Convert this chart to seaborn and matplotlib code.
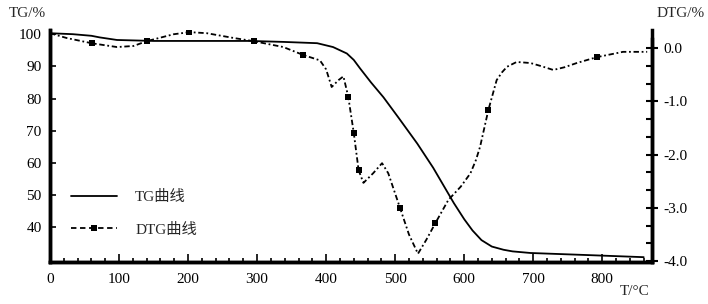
import numpy as np
import pandas as pd
import matplotlib
matplotlib.use("Agg")
import matplotlib.pyplot as plt
from matplotlib.ticker import MultipleLocator, FixedLocator, FuncFormatter
from matplotlib.lines import Line2D
import seaborn as sns

# TG 曲线 (左轴)
tg_temp = [0, 33, 60, 72, 97, 150, 250, 290, 338, 387, 410, 430, 440, 449,
           465, 483, 505, 532, 555, 570, 585, 600, 612, 625, 640, 657, 670,
           696, 773, 860]
tg_val = [100.3, 100.0, 99.5, 99.0, 98.2, 97.9, 97.9, 97.9, 97.6, 97.2, 96.0,
          94.0, 92.0, 89.4, 85.0, 80.4, 74.0, 66.0, 58.5, 53.0, 47.5, 42.5,
          39.0, 36.0, 34.0, 33.0, 32.5, 32.0, 31.4, 30.7]

# DTG 曲线 (右轴)
dtg_temp = [0, 24, 61, 97, 121, 140, 179, 202, 227, 266, 295, 338, 367, 391,
            400, 408, 418, 425, 432, 440, 447, 454, 468, 481, 490, 507, 520,
            533, 545, 558, 577, 595, 609, 617, 623, 635, 647, 655, 662, 676,
            696, 712, 729, 745, 763, 792, 830, 865]
dtg_val = [0.28, 0.19, 0.09, 0.02, 0.04, 0.13, 0.26, 0.30, 0.28, 0.19, 0.13,
           0.02, -0.13, -0.23, -0.40, -0.73, -0.60, -0.53, -0.91, -1.59, -2.29,
           -2.53, -2.35, -2.16, -2.35, -3.00, -3.50, -3.86, -3.60, -3.29, -2.85,
           -2.60, -2.35, -2.10, -1.85, -1.16, -0.60, -0.45, -0.35, -0.26, -0.28,
           -0.34, -0.41, -0.36, -0.28, -0.17, -0.07, -0.07]
marker_temps = [61, 140, 202, 295, 367, 432, 440, 447, 507, 558, 635, 792]

sns.set_style("ticks")
plt.rcParams['font.family'] = ['Liberation Serif', 'Noto Sans CJK SC']
plt.rcParams['axes.unicode_minus'] = False

fig = plt.figure(figsize=(7.08, 3.04), dpi=100)
ax = fig.add_axes([50 / 708, 42 / 304, 602 / 708, 232 / 304])
ax2 = ax.twinx()

sns.lineplot(x=tg_temp, y=tg_val, ax=ax, color='black', lw=1.3)
mark_idx = [dtg_temp.index(t) for t in marker_temps]
sns.lineplot(x=dtg_temp, y=dtg_val, ax=ax2, color='black', lw=1.3,
             linestyle=(0, (3, 1.5, 1, 1.5)), marker='s', markersize=4,
             markevery=mark_idx, markeredgewidth=0)

ax.set_xlim(0, 872)
ax.set_ylim(29.2, 101.3)
ax2.set_ylim(-4.015, 0.34)

for a in (ax, ax2):
    a.spines['top'].set_visible(False)
    for s in ('left', 'right', 'bottom'):
        a.spines[s].set_linewidth(2.5)
        a.spines[s].set_color('black')
ax2.spines['right'].set_bounds(-4.015, 0.17)
ax.set_xlabel('')
ax.set_ylabel('')
ax2.set_ylabel('')

ax.set_xticks(range(0, 900, 100))
ax.xaxis.set_minor_locator(MultipleLocator(20))
ax.set_yticks(range(40, 101, 10))
ax.tick_params(axis='x', which='major', direction='in', length=6, width=1.2,
               labelsize=11, pad=8, colors='black')
ax.tick_params(axis='x', which='minor', direction='in', length=3, width=1.2,
               colors='black')
ax.tick_params(axis='y', which='major', direction='in', length=4, width=1.2,
               labelsize=11, pad=6, colors='black')

ax2.yaxis.set_major_locator(FixedLocator([0, -1, -2, -3, -4]))
ax2.yaxis.set_minor_locator(FixedLocator([v / 3 for v in range(-12, 1)]))
ax2.yaxis.set_major_formatter(FuncFormatter(lambda v, p: '%.1f' % v))
ax2.tick_params(axis='y', which='major', direction='inout', length=8,
                width=1.5, labelsize=11, pad=4, colors='black')
ax2.tick_params(axis='y', which='minor', direction='in', length=4, width=1.5,
                colors='black')

fig.text(0.012, 0.955, 'TG/%', fontsize=11, va='center', ha='left')
fig.text(0.995, 0.955, 'DTG/%', fontsize=11, va='center', ha='right')
fig.text(0.897, 0.04, 'T/°C', fontsize=11, va='center', ha='center')

handles = [Line2D([], [], color='black', lw=1.3),
           Line2D([], [], color='black', lw=1.3, linestyle=(0, (3, 2)),
                  marker='s', markersize=4, markeredgewidth=0)]
ax.legend(handles, ['TG曲线', 'DTG曲线'], loc='lower left',
          bbox_to_anchor=(0.012, 0.05), frameon=False, fontsize=11,
          handlelength=3.0, handletextpad=1.2, labelspacing=1.2)

fig.savefig('out.png', dpi=100)
